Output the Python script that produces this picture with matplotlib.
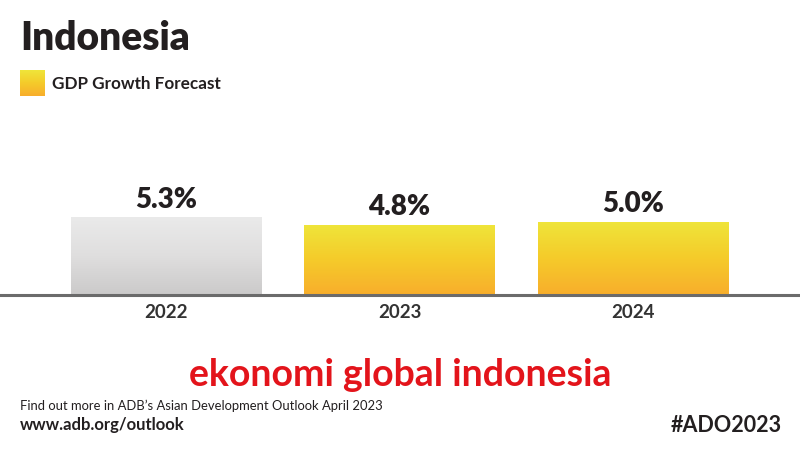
import numpy as np
import matplotlib
matplotlib.use('Agg')
import matplotlib.pyplot as plt
from matplotlib.colors import LinearSegmentedColormap

years = ['2022', '2023', '2024']
growth = [5.3, 4.8, 5.0]
labels = ['5.3%', '4.8%', '5.0%']
kinds = ['actual', 'forecast', 'forecast']

plt.rcParams['font.family'] = ['Lato', 'DejaVu Sans']

W, H = 800, 450
fig = plt.figure(figsize=(8, 4.5), dpi=100)
fig.patch.set_facecolor('white')

def fx(px):
    return px / W

def fy(py):
    return 1 - py / H

# axes: baseline at y=295px, 14.65 px per unit
ax = fig.add_axes([0, fy(295), 1, 145 / H])
ax.set_xlim(-0.711, 2.715)
ax.set_ylim(0, 145 / 14.65)
ax.axis('off')

grad = {
    'actual': LinearSegmentedColormap.from_list('g', ['#cbcaca', '#dfdede', '#eaeaea']),
    'forecast': LinearSegmentedColormap.from_list('y', ['#f8ae2c', '#f5cb2a', '#efe53a']),
}

x = np.arange(len(years))
bars = ax.bar(x, growth, width=0.815, color='none', edgecolor='none')
for b, k, lab, yr in zip(bars, kinds, labels, years):
    x0, w, h = b.get_x(), b.get_width(), b.get_height()
    img = np.linspace(0, 1, 100).reshape(-1, 1)
    im = ax.imshow(img, cmap=grad[k], origin='lower', aspect='auto',
                   extent=[x0, x0 + w, 0, h], interpolation='bicubic')
    im.set_clip_path(b)
    ax.text(x0 + w / 2, h + 0.3, lab, ha='center', va='bottom',
            fontsize=20, fontweight='heavy', color='#231f20')
    ax.text(x0 + w / 2, -1.2, yr, ha='center', va='center',
            fontsize=13.5, fontweight='bold', color='#333333', clip_on=False)

ax.axhline(0, color='#6b6b6b', linewidth=2.2, clip_on=False)

# title + legend
fig.text(fx(20), fy(38), 'Indonesia', fontsize=28, fontweight='heavy',
         color='#231f20', va='center', ha='left')
lax = fig.add_axes([fx(20), fy(96), fx(25), 26 / H])
lax.imshow(np.linspace(0, 1, 50).reshape(-1, 1), cmap=grad['forecast'], origin='lower',
           aspect='auto', extent=[0, 1, 0, 1])
lax.axis('off')
fig.text(fx(52), fy(84), 'GDP Growth Forecast', fontsize=12.3, fontweight='bold',
         color='#231f20', va='center', ha='left')

# footer
fig.text(fx(400), fy(375), 'ekonomi global indonesia', fontsize=27, fontweight='bold',
         color='#e3141b', va='center', ha='center')
fig.text(fx(20), fy(406), "Find out more in ADB\u2019s Asian Development Outlook April 2023",
         fontsize=9.4, color='#231f20', va='center', ha='left')
fig.text(fx(20), fy(425), 'www.adb.org/outlook', fontsize=12, fontweight='bold',
         color='#231f20', va='center', ha='left')
fig.text(fx(782), fy(425), '#ADO2023', fontsize=15.5, fontweight='bold',
         color='#231f20', va='center', ha='right')

fig.savefig('out.png', dpi=100)
